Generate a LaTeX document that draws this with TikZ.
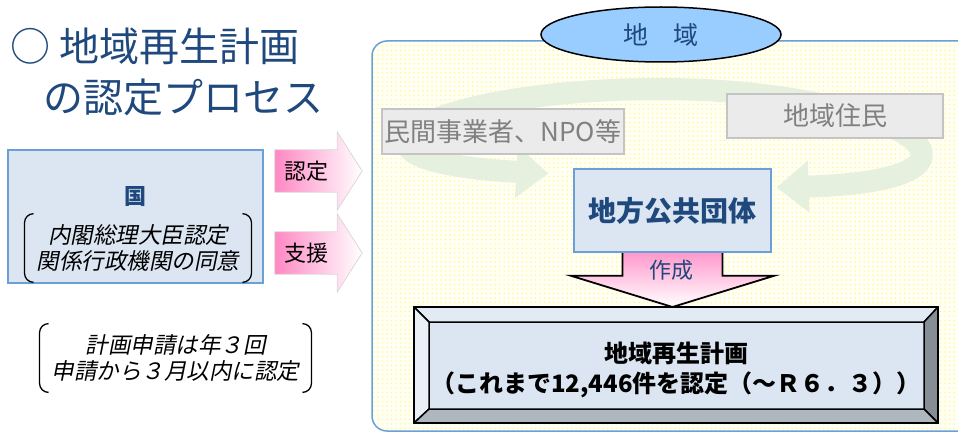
\documentclass[tikz,border=0pt]{standalone}
\usepackage{fontspec}
\setmainfont{Noto Sans CJK JP}
\newfontfamily\jpslant{Noto Sans CJK JP}[FakeSlant=0.2]
\usetikzlibrary{shapes.geometric,arrows.meta,calc,patterns.meta}
\definecolor{titleblue}{HTML}{1F497D}
\definecolor{boxblue}{HTML}{DCE6F2}
\definecolor{lineblue}{HTML}{6A9FD8}
\definecolor{skyblue}{HTML}{99CCFF}
\definecolor{loopgreen}{HTML}{E6F0DF}
\definecolor{ghostgray}{HTML}{EBEBEB}
\definecolor{boxgray}{HTML}{C4C4C4}
\definecolor{textgray}{HTML}{808080}
\definecolor{pinkarrow}{HTML}{FF88C4}
\definecolor{pinkdown}{HTML}{FF99CC}
\definecolor{areabg}{HTML}{FFFFF4}
\definecolor{dotyellow}{HTML}{FFF580}
\definecolor{bevtop}{HTML}{E2EAF4}
\definecolor{bevleft}{HTML}{EAF0F8}
\definecolor{bevright}{HTML}{868D95}
\definecolor{bevbottom}{HTML}{AEB6BE}
\pgfdeclarelayer{background}
\pgfsetlayers{background,main}
\newcommand{\kakko}[1]{%
  \draw[line width=1.3pt,rounded corners=9pt] ([xshift=9pt]#1.north west) -- (#1.north west) -- (#1.south west) -- ([xshift=9pt]#1.south west);
  \draw[line width=1.3pt,rounded corners=9pt] ([xshift=-9pt]#1.north east) -- (#1.north east) -- (#1.south east) -- ([xshift=-9pt]#1.south east);}
\begin{document}
\begin{tikzpicture}[x=1pt,y=-1pt]
        \tikzstyle{title}=[anchor=west,inner sep=0pt,text=titleblue,font=\fontsize{40}{42}\selectfont]
        \tikzstyle{bluebox}=[rectangle,draw=lineblue,line width=1.3pt,fill=boxblue,inner sep=0pt]
        \tikzstyle{graybox}=[rectangle,draw=boxgray,line width=1.5pt,fill=ghostgray,text=textgray,inner sep=0pt,font=\fontsize{26}{28}\selectfont]
        \tikzstyle{slant}=[align=center,inner xsep=12pt,inner ysep=11pt,font=\jpslant\fontsize{22.5}{25.5}\selectfont]
        \tikzstyle{arrowtext}=[minimum width=62pt,minimum height=42pt,inner sep=0pt,font=\fontsize{22}{24}\selectfont]
        \tikzstyle{blockarrow}=[draw=gray!30,line width=0.8pt,left color=pinkarrow,right color=white]
        \tikzstyle{ghost}=[fill=ghostgray,opacity=0.7,shift={(12,40)}]
        \tikzstyle{loop}=[draw=loopgreen,line width=22pt,-{Triangle[length=32pt,width=50pt]}]
        \tikzstyle{area}=[preaction={fill=areabg},pattern={Dots[distance=4.5pt,radius=0.75pt]},pattern color=dotyellow,draw=lineblue,line width=1.5pt,rounded corners=15pt]
        \tikzstyle{plan}=[rectangle,draw=black,line width=2pt,fill=boxblue,minimum width=522pt,minimum height=114pt]
        \tikzstyle{bevel}=[draw=black,line width=1.5pt,line join=round]
        \useasboundingbox (0,0) rectangle (958,433);
        \node [title] (t1) at (10,46) {○ 地域再生計画};
        \node [title] (t2) at (43,97) {の認定プロセス};
        \node [bluebox,minimum width=255pt,minimum height=133pt] (kuni) at (135.5,216.5) {};
        \node [text=titleblue,font=\bfseries\fontsize{22}{24}\selectfont] (kunilabel) at (135,197) {国};
        \node [slant] (kunisub) at (138,248) {内閣総理大臣認定\\関係行政機関の同意};
        \kakko{kunisub}
        \node [slant] (note) at (175.5,358) {計画申請は年３回\\申請から３月以内に認定};
        \kakko{note}
        \node [arrowtext] (nin) at (306,171) {認定};
        \node [arrowtext] (shi) at (306,253) {支援};
        \node [ellipse,draw=black,line width=1.5pt,fill=skyblue,minimum width=240pt,minimum height=55pt,text=titleblue,font=\fontsize{25}{27}\selectfont] (chiiki) at (661,34.5) {地　域};
        \node [graybox,minimum width=242pt,minimum height=45pt] (minkan) at (503,131.5) {民間事業者、NPO等};
        \node [graybox,minimum width=216pt,minimum height=44pt] (jumin) at (835,116) {地域住民};
        \node [bluebox,minimum width=197pt,minimum height=83pt,text=titleblue,font=\bfseries\fontsize{28}{30}\selectfont] (lg) at (672.5,210.5) {地方公共団体};
        \node [text=titleblue,font=\fontsize{22}{24}\selectfont] (sakusei) at (671,270) {作成};
        \node [plan] (plan) at (676,365) {};
        \coordinate (pi1) at ($(plan.north west)+(15,15)$);
        \coordinate (pi2) at ($(plan.north east)+(-14,15)$);
        \coordinate (pi3) at ($(plan.south east)+(-14,-14)$);
        \coordinate (pi4) at ($(plan.south west)+(15,-14)$);
        \draw [bevel,fill=bevtop] (plan.north west) -- (plan.north east) -- (pi2) -- (pi1) -- cycle;
        \draw [bevel,fill=bevleft] (plan.north west) -- (pi1) -- (pi4) -- (plan.south west) -- cycle;
        \draw [bevel,fill=bevright] (plan.north east) -- (plan.south east) -- (pi3) -- (pi2) -- cycle;
        \draw [bevel,fill=bevbottom] (plan.south west) -- (pi4) -- (pi3) -- (plan.south east) -- cycle;
        \draw [line width=2pt] (plan.north west) rectangle (plan.south east);
        \node [align=center,font=\bfseries\fontsize{24}{30}\selectfont] (plantext) at (676,370) {地域再生計画\\（これまで12,446件を認定（～Ｒ６．３））};
        \begin{pgfonlayer}{background}
            \foreach \n in {nin,shi} {
                \fill [ghost] (\n.north west) -- (\n.north east) -- ++(0,-18) -- ($(\n.east)+(25,0)$) -- ($(\n.south east)+(0,18)$) -- (\n.south east) -- (\n.south west) -- cycle;
            }
            \path [area] (372,41) rectangle (1000,431);
            \coordinate (looptop) at (660,89);
            \draw [loop] (looptop) .. controls (430,89) and (300,160) .. ($(lg.west)+(-25,-37)$);
            \draw [loop] (looptop) .. controls (900,89) and (1030,180) .. ($(lg.east)+(5,-23)$);
            \foreach \n in {nin,shi} {
                \shade [blockarrow] (\n.north west) -- (\n.north east) -- ++(0,-18) -- ($(\n.east)+(25,0)$) -- ($(\n.south east)+(0,18)$) -- (\n.south east) -- (\n.south west) -- cycle;
            }
            \shade [top color=pinkdown,bottom color=white,draw=black,line width=1.8pt] ($(lg.south)+(-50,0)$) -- ++(0,23) -- ++(-52,0) -- (lg.south |- plan.north) -- ($(lg.south)+(102,23)$) -- ++(-52,0) -- ($(lg.south)+(50,0)$);
        \end{pgfonlayer}
\end{tikzpicture}
\end{document}
